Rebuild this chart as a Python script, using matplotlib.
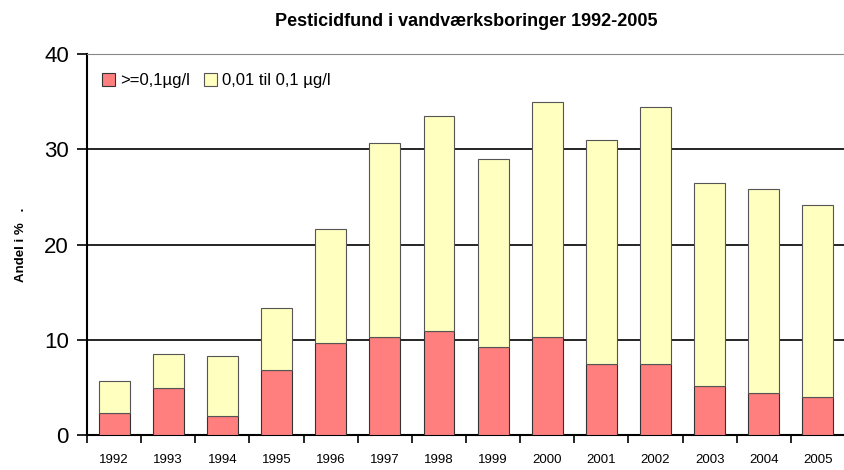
import matplotlib
matplotlib.use("Agg")
import matplotlib.pyplot as plt
import numpy as np

plt.rcParams['font.family'] = ['Liberation Sans', 'DejaVu Sans']

years = ['1992', '1993', '1994', '1995', '1996', '1997', '1998', '1999',
         '2000', '2001', '2002', '2003', '2004', '2005']
red_vals = [2.3, 4.9, 2.0, 6.8, 9.7, 10.3, 10.9, 9.2, 10.3, 7.5, 7.5, 5.1, 4.4, 4.0]
total_vals = [5.7, 8.5, 8.3, 13.3, 21.6, 30.7, 33.5, 29.0, 35.0, 31.0, 34.4, 26.5, 25.8, 24.1]
yellow_vals = [t - r for t, r in zip(total_vals, red_vals)]

fig = plt.figure(figsize=(8.45, 4.7), dpi=100)
ax = fig.add_axes([0.103, 0.0745, 0.897, 0.8105])

x = np.arange(len(years))
ax.bar(x, red_vals, width=0.57, color='#ff7f7f', edgecolor='#333333', linewidth=0.8,
       label='>=0,1µg/l', zorder=3)
ax.bar(x, yellow_vals, bottom=red_vals, width=0.57, color='#ffffc0', edgecolor='#555555',
       linewidth=0.8, label='0,01 til 0,1 µg/l', zorder=3)

ax.set_xlim(-0.5, len(years) - 0.5)
ax.set_ylim(0, 40)
ax.set_yticks([0, 10, 20, 30, 40])
ax.tick_params(axis='y', labelsize=16, length=7, width=1.2, direction='out', pad=6)
ax.yaxis.grid(True, color='black', linewidth=1.2, zorder=0)
ax.set_xticks(np.arange(len(years) + 1) - 0.5, minor=False)
ax.set_xticklabels([])
ax.set_xticks(x, minor=True)
ax.set_xticklabels(years, minor=True, fontsize=9.5)
ax.tick_params(axis='x', which='major', length=6, width=1.2)
ax.tick_params(axis='x', which='minor', length=0, pad=14)

ax.spines['right'].set_visible(False)
ax.spines['top'].set_color('#888888')
ax.spines['left'].set_linewidth(1.5)
ax.spines['bottom'].set_linewidth(1.5)

ax.set_ylabel('Andel i %   .', fontsize=9.5, fontweight='bold', labelpad=12)
ax.set_title('Pesticidfund i vandværksboringer 1992-2005', fontsize=13, fontweight='bold', pad=20)

ax.legend(loc='upper left', ncol=2, frameon=False, fontsize=12, handlelength=0.8,
          handleheight=0.8, handletextpad=0.3, columnspacing=0.8,
          bbox_to_anchor=(0.0, 0.99))

fig.savefig('out.png', dpi=100)
